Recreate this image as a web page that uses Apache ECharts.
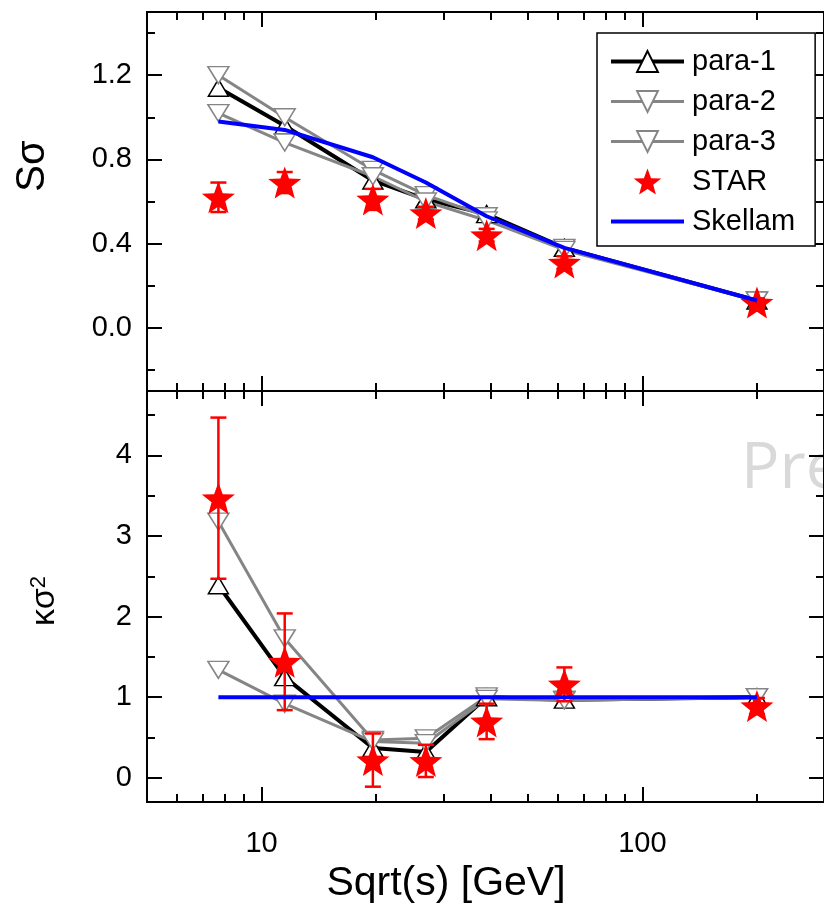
<!DOCTYPE html>
<html><head><meta charset="utf-8">
<script src="https://cdn.jsdelivr.net/npm/echarts@6/dist/echarts.min.js"></script>
<style>html,body{margin:0;padding:0;background:#fff}#c{width:824px;height:913px}</style>
</head><body><div id="c"></div>
<script>
// ---- data ----
const energies = [7.7, 11.5, 19.6, 27, 39, 62.4, 200];
// S*sigma (top panel)
const ssPara1   = [1.14, 0.96, 0.70, 0.61, 0.54, 0.38, 0.13];
const ssPara2   = [1.20, 1.00, 0.75, 0.63, 0.53, 0.38, 0.13];
const ssPara3   = [1.02, 0.88, 0.72, 0.60, 0.51, 0.37, 0.13];
const ssStar    = [0.62, 0.69, 0.61, 0.545, 0.44, 0.31, 0.12];
const ssStarErr = [0.07, 0.05, 0.05, 0.03, 0.03, 0.03, 0.02];
const ssSkellam = [0.98, 0.94, 0.81, 0.69, 0.53, 0.38, 0.13];
// kappa*sigma^2 (bottom panel)
const ksPara1   = [2.39, 1.25, 0.37, 0.32, 1.00, 0.97, 1.00];
const ksPara2   = [3.18, 1.73, 0.47, 0.49, 1.01, 0.97, 1.00];
const ksPara3   = [1.34, 0.92, 0.45, 0.43, 0.98, 0.96, 1.00];
const ksStar    = [3.47, 1.44, 0.22, 0.21, 0.70, 1.16, 0.89];
const ksStarErr = [1.00, 0.60, 0.33, 0.20, 0.22, 0.21, 0.10];
const ksSkellam = [1, 1, 1, 1, 1, 1, 1];
// ticks
const xMinorTicks = [6, 7, 8, 9, 20, 30, 40, 50, 60, 70, 80, 90, 200];
const ssLabels = [0, 0.4, 0.8, 1.2];
const ssMinor  = [-0.2, 0.2, 0.6, 1.0, 1.4];
const ksLabels = [0, 1, 2, 3, 4];
const ksMinor  = [0.5, 1.5, 2.5, 3.5, 4.5];
const legendNames = ['para-1', 'para-2', 'para-3', 'STAR', 'Skellam'];

const FONT = '"Liberation Sans", Arial, sans-serif';
const STAR = 'path://M50,0 L62.5,34 L98.1,35.1 L70,57 L79.4,91 L50,71.5 L20.6,91 L30,57 L1.9,35.1 L37.5,34 Z';
const GRAY = '#858585';

function pairs(vals) { return energies.map((e, i) => [e, vals[i]]); }

const lineAx = {show: true, onZero: false, lineStyle: {color: '#000', width: 2}};
const majT = {show: true, inside: true, length: 15, lineStyle: {color: '#000', width: 2}};
const minT = {show: true, inside: true, length: 8, lineStyle: {color: '#000', width: 2}};

function xAxes(g, labels) {
  const base = {type: 'log', logBase: 10, min: 5, max: 300, gridIndex: g, axisLine: lineAx,
    splitLine: {show: false}, minorTick: {show: false}, axisPointer: {show: false}};
  const lab = labels ? {show: true, margin: 27, fontSize: 29, color: '#000', fontFamily: FONT,
    showMinLabel: false, showMaxLabel: false} : {show: false};
  return [
    Object.assign({}, base, {position: 'bottom', axisTick: majT, axisLabel: lab}),
    Object.assign({}, base, {position: 'bottom', axisTick: Object.assign({customValues: xMinorTicks}, minT), axisLabel: {show: false}}),
    Object.assign({}, base, {position: 'top', axisTick: majT, axisLabel: {show: false}}),
    Object.assign({}, base, {position: 'top', axisTick: Object.assign({customValues: xMinorTicks}, minT), axisLabel: {show: false}})
  ];
}
function yAxes(g, min, max, labs, minor, fmt) {
  const base = {type: 'value', min: min, max: max, gridIndex: g, axisLine: lineAx,
    splitLine: {show: false}, axisPointer: {show: false}};
  return [
    Object.assign({}, base, {position: 'left', axisTick: Object.assign({customValues: labs}, majT),
      axisLabel: {show: true, customValues: labs, margin: 15, fontSize: 29, color: '#000', fontFamily: FONT, formatter: fmt}}),
    Object.assign({}, base, {position: 'left', axisTick: Object.assign({customValues: minor}, minT), axisLabel: {show: false}}),
    Object.assign({}, base, {position: 'right', axisTick: Object.assign({customValues: labs}, majT), axisLabel: {show: false}}),
    Object.assign({}, base, {position: 'right', axisTick: Object.assign({customValues: minor}, minT), axisLabel: {show: false}})
  ];
}

function paraSeries(name, xi, yi, vals, color, width, down) {
  return {type: 'line', name: name, xAxisIndex: xi, yAxisIndex: yi, z: 2,
    data: pairs(vals), symbol: 'triangle', symbolSize: down ? [21, 17] : [20, 17],
    symbolRotate: down ? 180 : 0, showAllSymbol: true,
    itemStyle: {color: '#fff', borderColor: color, borderWidth: 1.5},
    lineStyle: {color: color, width: width}, emphasis: {disabled: true}};
}
function starSeries(xi, yi, vals) {
  return {type: 'scatter', name: 'STAR', xAxisIndex: xi, yAxisIndex: yi, z: 4,
    data: pairs(vals), symbol: STAR, symbolSize: [33, 32],
    itemStyle: {color: '#ff0000', opacity: 1}, emphasis: {disabled: true}};
}
function errSeries(xi, yi, vals, errs) {
  return {type: 'custom', xAxisIndex: xi, yAxisIndex: yi, z: 4, silent: true,
    data: energies.map((e, i) => [e, vals[i], errs[i]]),
    encode: {x: 0, y: 1},
    renderItem: function (params, api) {
      const x = api.value(0), y = api.value(1), d = api.value(2);
      const hi = api.coord([x, y + d]), lo = api.coord([x, y - d]);
      const w = 8, st = {stroke: '#ff0000', lineWidth: 2.5};
      return {type: 'group', children: [
        {type: 'line', shape: {x1: hi[0], y1: hi[1], x2: lo[0], y2: lo[1]}, style: st},
        {type: 'line', shape: {x1: hi[0] - w, y1: hi[1], x2: hi[0] + w, y2: hi[1]}, style: st},
        {type: 'line', shape: {x1: lo[0] - w, y1: lo[1], x2: lo[0] + w, y2: lo[1]}, style: st}
      ]};
    }};
}
function skellamSeries(xi, yi, vals) {
  return {type: 'line', name: 'Skellam', xAxisIndex: xi, yAxisIndex: yi, z: 5,
    data: pairs(vals), symbol: 'none', itemStyle: {color: '#0000ff'},
    lineStyle: {color: '#0000ff', width: 4}, emphasis: {disabled: true}};
}

const legendLineW = {'para-1': 4, 'para-2': 3, 'para-3': 3, 'Skellam': 4};

const option = {
  animation: false,
  backgroundColor: '#fff',
  grid: [
    {left: 147, right: -3, top: 12, height: 379},
    {left: 147, right: -3, top: 391, height: 411}
  ],
  xAxis: [].concat(xAxes(0, false), xAxes(1, true)),
  yAxis: [].concat(
    yAxes(0, -0.3, 1.5, ssLabels, ssMinor, v => v.toFixed(1)),
    yAxes(1, -0.3, 4.8, ksLabels, ksMinor, v => String(v))
  ),
  legend: {
    orient: 'vertical', left: 597, top: 33,
    padding: [14, 20, 10, 12], itemGap: 11, itemWidth: 73, itemHeight: 26,
    borderColor: '#000', borderWidth: 1.5, backgroundColor: '#fff',
    textStyle: {fontSize: 29, fontFamily: FONT, color: '#000', lineHeight: 29, padding: [0, 0, 0, 3]},
    selectedMode: false,
    data: legendNames.map(n => {
      const item = {name: n};
      if (legendLineW[n]) item.lineStyle = {width: legendLineW[n]};
      if (n === 'Skellam') item.itemStyle = {color: 'rgba(0,0,0,0)', borderColor: 'rgba(0,0,0,0)', opacity: 0};
      return item;
    })
  },
  graphic: [
    {type: 'text', x: 446, y: 884, style: {text: 'Sqrt(s) [GeV]', fontSize: 41, fontFamily: FONT, fill: '#000', align: 'center', verticalAlign: 'middle'}},
    {type: 'text', x: 33, y: 166, rotation: Math.PI / 2, style: {text: 'Sσ', fontSize: 40, fontFamily: FONT, fill: '#000', align: 'center', verticalAlign: 'middle'}},
    {type: 'text', x: 45, y: 601, rotation: Math.PI / 2, style: {
      text: '{a|κσ}{b|2}', align: 'center', verticalAlign: 'middle', fill: '#000',
      rich: {a: {fontSize: 34, fontFamily: FONT, fill: '#000'}, b: {fontSize: 22, fontFamily: FONT, fill: '#000', verticalAlign: 'top'}}}},
    {type: 'text', x: 741, y: 470, style: {text: 'Pre', fontSize: 64, fontFamily: '"Open Sans", sans-serif', fill: '#d9d9d9', verticalAlign: 'middle'}}
  ],
  series: [
    paraSeries('para-1', 0, 0, ssPara1, '#000', 4, false),
    paraSeries('para-2', 0, 0, ssPara2, GRAY, 3, true),
    paraSeries('para-3', 0, 0, ssPara3, GRAY, 3, true),
    errSeries(0, 0, ssStar, ssStarErr),
    starSeries(0, 0, ssStar),
    skellamSeries(0, 0, ssSkellam),
    paraSeries('para-1', 4, 4, ksPara1, '#000', 4, false),
    paraSeries('para-2', 4, 4, ksPara2, GRAY, 3, true),
    paraSeries('para-3', 4, 4, ksPara3, GRAY, 3, true),
    errSeries(4, 4, ksStar, ksStarErr),
    starSeries(4, 4, ksStar),
    skellamSeries(4, 4, ksSkellam)
  ]
};
const chart = echarts.init(document.getElementById('c'), null, {renderer: 'canvas'});
chart.setOption(option);
</script></body></html>
